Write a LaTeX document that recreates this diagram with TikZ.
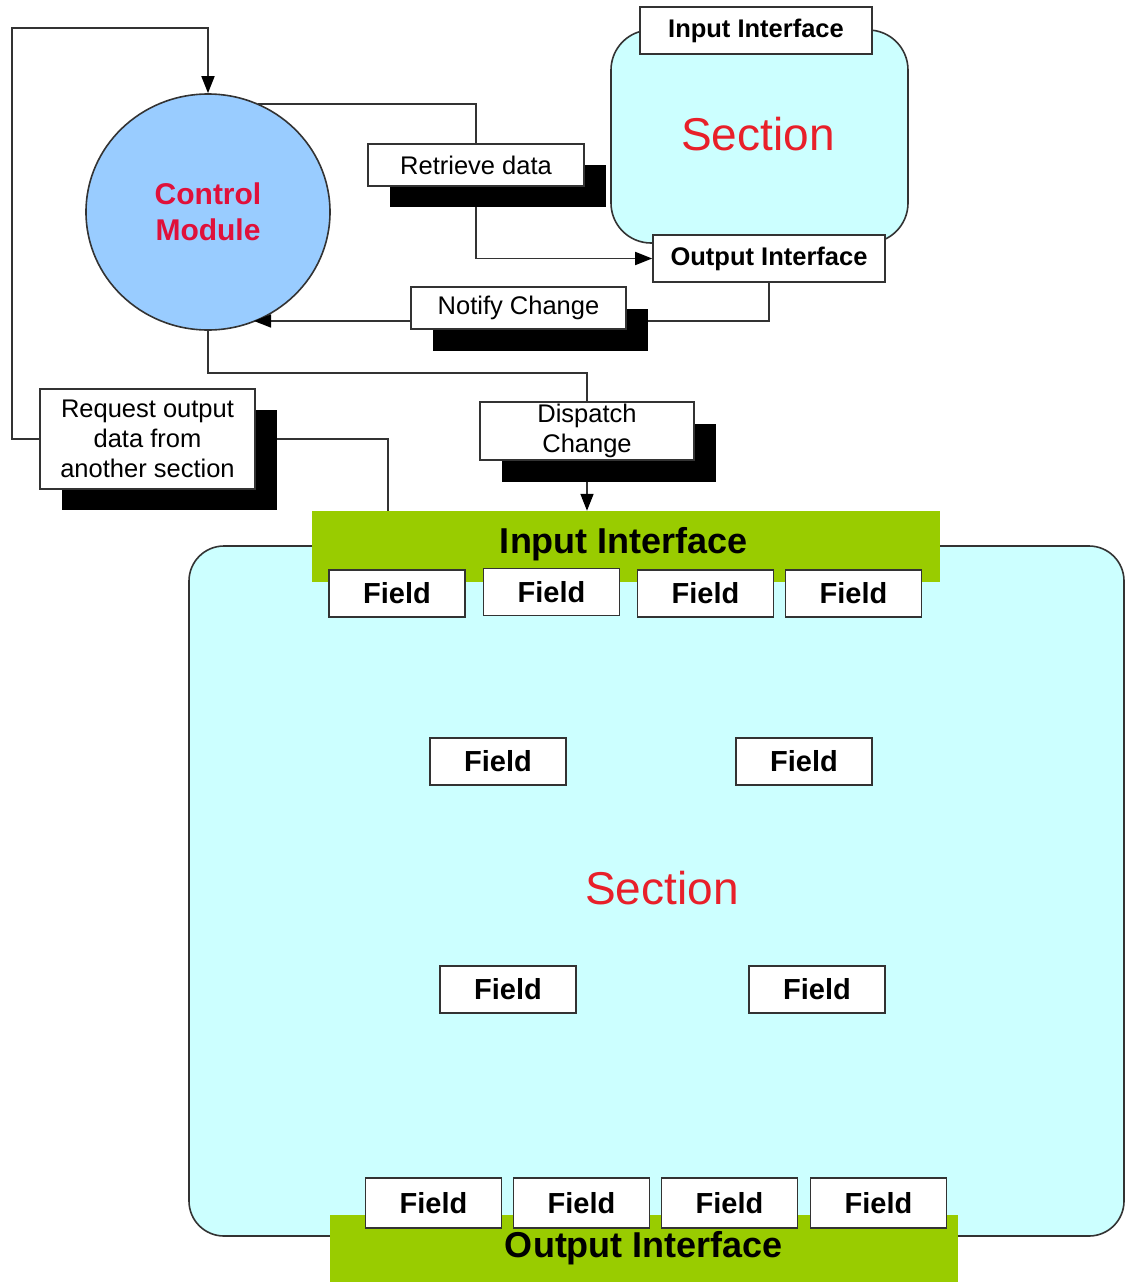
\documentclass[tikz,border=0pt]{standalone}
\usepackage{fontspec}
\setmainfont{Liberation Sans}
\usetikzlibrary{shapes.geometric,arrows.meta,calc}
\definecolor{cmblue}{HTML}{99CCFF}
\definecolor{secfill}{HTML}{CCFFFF}
\definecolor{ifgreen}{HTML}{99CC00}
\definecolor{secred}{HTML}{E8202A}
\definecolor{cmred}{HTML}{E0103A}
\definecolor{edge}{HTML}{333333}
\begin{document}
\begin{tikzpicture}[x=1pt,y=-1pt,
  box/.style={draw=edge, fill=white, line width=1.6pt, inner sep=0pt},
  shadowbox/.style={fill=black, draw=none, inner sep=0pt},
  lbl/.style={box, font=\fontsize{25.5}{30}\selectfont, align=center},
  ifbox/.style={box, font=\fontsize{25.5}{30}\selectfont\bfseries, minimum width=232pt, minimum height=47pt},
  fieldbox/.style={box, font=\fontsize{29}{34}\selectfont\bfseries, minimum width=136pt, minimum height=47pt},
  greenbar/.style={fill=ifgreen, draw=none, inner sep=0pt, minimum width=628pt, font=\fontsize{36}{40}\selectfont\bfseries},
  section/.style={draw=edge, fill=secfill, line width=1.6pt, inner sep=0pt},
  sectxt/.style={text=secred, font=\fontsize{46}{50}\selectfont},
  conn/.style={draw=edge, line width=1.6pt},
  arr/.style={conn, -{Triangle[length=17pt,width=13pt,color=black]}}
]
\useasboundingbox (0,0) rectangle (1126,1282);
\fill[white] (0,0) rectangle (1126,1282);

% ---------- top section ----------
\node[section, rounded corners=40pt, minimum width=297pt, minimum height=213pt] (tsec) at (759.5,136.5) {};
\node[sectxt] (tsectxt) at (758,134) {Section};
\node[ifbox] (tin) at (756,30.5) {Input Interface};
\node[ifbox] (tout) at (769,258.5) {Output Interface};

% ---------- control module ----------
\node[ellipse, draw=edge, fill=cmblue, line width=1.6pt, minimum width=244pt, minimum height=236pt, inner sep=0pt,
      text=cmred, font=\fontsize{30}{36}\selectfont\bfseries, align=center] (cm) at (208,212) {Control\\Module};

% ---------- label boxes with shadows ----------
\node[shadowbox, minimum width=216pt, minimum height=42pt] (retS) at (498,186) {};
\node[lbl, minimum width=216pt, minimum height=42pt] (ret) at (476,165) {Retrieve data};

\node[shadowbox, minimum width=215pt, minimum height=42pt] (notS) at (540.5,330) {};
\node[lbl, minimum width=215pt, minimum height=42pt] (not) at (518.5,308) {Notify Change};

\node[shadowbox, minimum width=214pt, minimum height=58pt] (disS) at (609,453) {};
\node[lbl, minimum width=214pt, minimum height=58pt] (dis) at (587,431) {Dispatch\\Change};

\node[shadowbox, minimum width=215pt, minimum height=100pt] (reqS) at (169.5,460) {};
\node[lbl, minimum width=215pt, minimum height=100pt] (req) at (147.5,439) {Request output\\data from\\another section};

% ---------- big section ----------
\node[section, rounded corners=35pt, minimum width=935pt, minimum height=690pt] (bsec) at (656.5,891) {};
\node[sectxt] (bsectxt) at (662,888) {Section};

\node[greenbar, minimum height=71pt] (gin) at (626,546.5) {};
\node[font=\fontsize{36}{40}\selectfont\bfseries, inner sep=0pt] (gintxt) at (624,544) {Input Interface};

\node[fieldbox] (f1) at (397,593.5) {Field};
\node[fieldbox] (f2) at (551.5,592) {Field};
\node[fieldbox] (f3) at (705.5,593.5) {Field};
\node[fieldbox] (f4) at (853.5,593.5) {Field};

\node[fieldbox] (m1) at (498,761.5) {Field};
\node[fieldbox] (m2) at (804,761.5) {Field};
\node[fieldbox] (m3) at (508,989.5) {Field};
\node[fieldbox] (m4) at (817,989.5) {Field};

\node[greenbar, minimum height=67pt] (gout) at (644,1248.5) {};
\node[font=\fontsize{36}{40}\selectfont\bfseries, inner sep=0pt] (gouttxt) at (644,1248) {Output Interface};

\node[fieldbox, minimum height=50pt] (b1) at (433.5,1203) {Field};
\node[fieldbox, minimum height=50pt] (b2) at (581.5,1203) {Field};
\node[fieldbox, minimum height=50pt] (b3) at (729.5,1203) {Field};
\node[fieldbox, minimum height=50pt] (b4) at (878.5,1203) {Field};

% ---------- connectors ----------
\draw[arr] (req.west) -- (12,439) -- (12,28) -| (cm.north);
\draw[conn] (cm.65) -| (ret.north);
\draw[arr] (ret.center |- retS.south) |- (tout.west);
\coordinate (cmN) at (254,321);
\draw[conn] (tout.south) |- ($(notS.east)+(0,-9)$);
\draw[arr] ($(not.west)+(0,13)$) -- (cmN);
\draw[conn] (cm.south) -- ++(0,42) -| (dis.north);
\draw[arr] (dis.center |- disS.south) -- (dis.center |- gin.north);
\draw[conn] (req.center -| reqS.east) -| ($(gin.north west)+(76,0)$);
\end{tikzpicture}
\end{document}
